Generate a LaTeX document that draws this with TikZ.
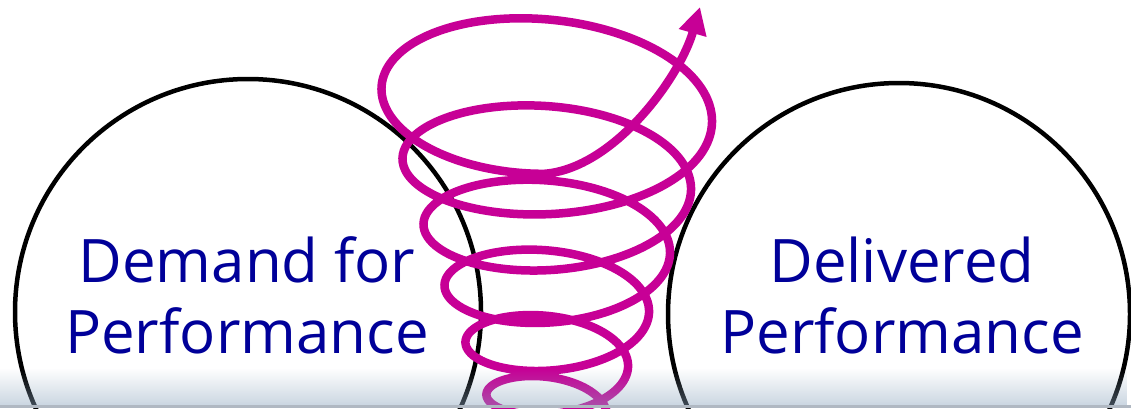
\documentclass[tikz,border=0pt]{standalone}
\usepackage{fontspec}
\setmainfont{Open Sans}
\usetikzlibrary{arrows.meta, fadings}

\definecolor{labelblue}{RGB}{0,0,153}
\definecolor{spiralpink}{RGB}{199,0,150}
\definecolor{bandblue}{RGB}{140,165,190}
\definecolor{bandline}{RGB}{176,184,194}

\begin{document}
\begin{tikzpicture}[
    x=1pt, y=-1pt,
    ring/.style={draw=black, line width=4.5pt},
    label/.style={text=labelblue, align=center, inner sep=0pt, font=\fontsize{60}{71}\selectfont},
    spiral/.style={draw=spiralpink, line width=8.5pt, line cap=round, line join=round, -{Triangle[length=27pt, width=27pt]}}
]

\useasboundingbox (0,0) rectangle (1131,408);
\fill[white] (0,0) rectangle (1131,408);
\clip (0,0) rectangle (1131,408);

% Circles
\draw[ring] (248,312) circle[radius=233];
\draw[ring] (899,314) circle[radius=231];

% Labels
\node[label] (demand) at (247,295) {Demand for\\Performance};
\node[label] (delivered) at (902,295) {Delivered\\Performance};

% Spiral
\path[spiral] plot[domain=-0.5:5.75, samples=600, smooth, variable=\t]
    ({552 + (55+21*\t)*cos(360*\t)},
     {418 - 48*\t - 2.2*\t*\t - (0.47*(55+21*\t) + 14*max(0,\t-4.5)^2)*sin(360*\t)})
    .. controls +(70,-5) and +(-20,70) .. (700,7);

% Bottom band
\fill[bandblue, fill opacity=0.45, path fading=north] (0,368) rectangle (1131,405);
\fill[bandline] (0,405) rectangle (1131,408);

\end{tikzpicture}
\end{document}
